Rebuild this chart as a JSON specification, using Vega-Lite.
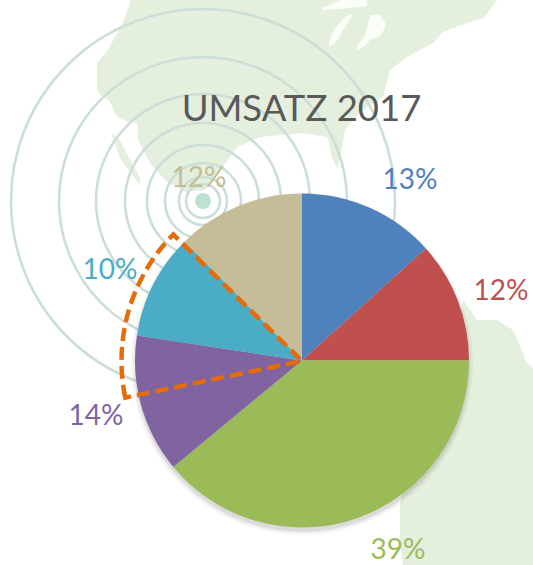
{
"$schema":"https://vega.github.io/schema/vega-lite/v6.json",
"width":533,"height":565,"padding":0,"autosize":{"type":"pad"},"background":"white",
"config":{"view":{"stroke":null},"font":"Lato"},
"datasets":{
"land":[
{"region":"north","x":97,"y":63,"y2":90},{"region":"north","x":102,"y":57,"y2":97},{"region":"north","x":109,"y":48,"y2":100},{"region":"north","x":116,"y":35,"y2":115},{"region":"north","x":121,"y":27,"y2":119},{"region":"north","x":126,"y":14,"y2":121},{"region":"north","x":131,"y":0,"y2":122},{"region":"north","x":137,"y":0,"y2":123},{"region":"north","x":138,"y":0,"y2":140},{"region":"north","x":150,"y":0,"y2":163},{"region":"north","x":165,"y":0,"y2":180},{"region":"north","x":185,"y":0,"y2":192},{"region":"north","x":205,"y":0,"y2":190},{"region":"north","x":220,"y":0,"y2":170},{"region":"north","x":228,"y":0,"y2":160},{"region":"north","x":237,"y":0,"y2":147},{"region":"north","x":260,"y":0,"y2":137},{"region":"north","x":303,"y":0,"y2":133},{"region":"north","x":328,"y":0,"y2":137},{"region":"north","x":331,"y":0,"y2":155},{"region":"north","x":337,"y":0,"y2":168},{"region":"north","x":341,"y":0,"y2":155},{"region":"north","x":345,"y":0,"y2":130},{"region":"north","x":360,"y":0,"y2":112},{"region":"north","x":383,"y":0,"y2":97},{"region":"north","x":390,"y":0,"y2":70},{"region":"north","x":407,"y":0,"y2":57},{"region":"north","x":433,"y":0,"y2":43},{"region":"north","x":443,"y":0,"y2":32},{"region":"north","x":470,"y":0,"y2":22},{"region":"north","x":484,"y":0,"y2":18},{"region":"north","x":497,"y":0,"y2":0},
{"region":"baja","x":112,"y":133,"y2":135},{"region":"baja","x":120,"y":140,"y2":158},{"region":"baja","x":130,"y":160,"y2":172},{"region":"baja","x":140,"y":178,"y2":185},
{"region":"south","x":400,"y":505,"y2":540},{"region":"south","x":403,"y":480,"y2":565},{"region":"south","x":440,"y":400,"y2":565},{"region":"south","x":463,"y":300,"y2":565},{"region":"south","x":477,"y":320,"y2":565},{"region":"south","x":497,"y":320,"y2":565},{"region":"south","x":513,"y":330,"y2":565},{"region":"south","x":527,"y":363,"y2":565},{"region":"south","x":533,"y":368,"y2":565}
],
"lakes":[
{"lake":"superior","x":322,"y":8,"y2":10},{"lake":"superior","x":340,"y":0,"y2":9},{"lake":"superior","x":367,"y":0,"y2":6},
{"lake":"michigan","x":329,"y":42,"y2":46},{"lake":"michigan","x":335,"y":28,"y2":44},{"lake":"michigan","x":345,"y":17,"y2":27},{"lake":"michigan","x":352,"y":14,"y2":16},
{"lake":"huron","x":357,"y":46,"y2":50},{"lake":"huron","x":365,"y":36,"y2":46},{"lake":"huron","x":370,"y":15,"y2":40},{"lake":"huron","x":380,"y":15,"y2":36},{"lake":"huron","x":385,"y":22,"y2":28}
],
"rings":[{"r":192},{"r":144},{"r":107},{"r":78},{"r":56},{"r":38},{"r":24},{"r":17}],
"slices":[
{"segment":1,"share":13.3,"label":"13%","lx":410,"ly":181},
{"segment":2,"share":11.7,"label":"12%","lx":501,"ly":292},
{"segment":3,"share":39.0,"label":"39%","lx":398,"ly":551},
{"segment":4,"share":13.4,"label":"14%","lx":96,"ly":417},
{"segment":5,"share":10.2,"label":"10%","lx":110,"ly":271},
{"segment":6,"share":12.4,"label":"12%","lx":199,"ly":179}
]
},
"layer":[
{"data":{"name":"land"},"mark":{"type":"area","color":"#e5efdd"},"encoding":{
"x":{"field":"x","type":"quantitative","scale":{"domain":[0,533],"nice":false,"zero":false},"axis":null},
"y":{"field":"y","type":"quantitative","stack":null,"scale":{"domain":[565,0],"nice":false,"zero":false},"axis":null},
"y2":{"field":"y2"},"detail":{"field":"region"}}},
{"data":{"name":"lakes"},"mark":{"type":"area","color":"#fbfdf9"},"encoding":{
"x":{"field":"x","type":"quantitative","axis":null},
"y":{"field":"y","type":"quantitative","stack":null,"axis":null},
"y2":{"field":"y2"},"detail":{"field":"lake"}}},
{"data":{"name":"rings"},"mark":{"type":"point","filled":false,"stroke":"#cbded8","strokeWidth":2.6,"opacity":1},"encoding":{
"x":{"datum":203},"y":{"datum":201},
"size":{"field":"r","type":"quantitative","legend":null,"scale":{"type":"pow","exponent":2,"domain":[0,200],"range":[0,160000]}}}},
{"data":{"values":[{"r":8}]},"mark":{"type":"point","filled":true,"fill":"#bbe2d0","opacity":1},"encoding":{
"x":{"datum":203},"y":{"datum":201},
"size":{"field":"r","type":"quantitative","legend":null}}},
{"data":{"values":[{"r":171,"o":0.05},{"r":169,"o":0.07},{"r":167.5,"o":0.1}]},"mark":{"type":"point","filled":true,"fill":"#555555"},"encoding":{
"x":{"datum":302},"y":{"datum":364},
"size":{"field":"r","type":"quantitative","legend":null},
"opacity":{"field":"o","type":"quantitative","scale":null}}},
{"data":{"name":"slices"},"mark":{"type":"arc","outerRadius":167},"encoding":{
"x":{"datum":302},"y":{"datum":360.5},
"theta":{"field":"share","type":"quantitative","stack":true,"scale":{"domain":[0,100],"range":[0,6.283185]}},
"order":{"field":"segment"},
"color":{"field":"segment","type":"nominal","legend":null,"scale":{"domain":[1,2,3,4,5,6],"range":["#4f81bd","#c0504d","#9bbb59","#8064a2","#4bacc6","#c4bd97"]}}}},
{"data":{"values":[{"from":71.75,"to":87.36}]},"mark":{"type":"arc","outerRadius":180.5,"innerRadius":0,"fill":null,"stroke":"#e46c0a","strokeWidth":4.5,"strokeDash":[13,6]},"encoding":{
"x":{"datum":302},"y":{"datum":361},
"theta":{"field":"from","type":"quantitative","stack":false},"theta2":{"field":"to"}}},
{"data":{"name":"slices"},"mark":{"type":"text","fontSize":28,"font":"Lato","align":"center","baseline":"middle"},"encoding":{
"x":{"field":"lx","type":"quantitative"},"y":{"field":"ly","type":"quantitative"},
"text":{"field":"label"},
"color":{"field":"segment","type":"nominal","legend":null}}},
{"data":{"values":[{"title":"UMSATZ 2017","tx":301.5,"ty":110}]},"mark":{"type":"text","fontSize":36.5,"font":"Lato","align":"center","baseline":"middle","color":"#595959"},"encoding":{
"x":{"field":"tx","type":"quantitative"},"y":{"field":"ty","type":"quantitative"},"text":{"field":"title"}}}
]
}
